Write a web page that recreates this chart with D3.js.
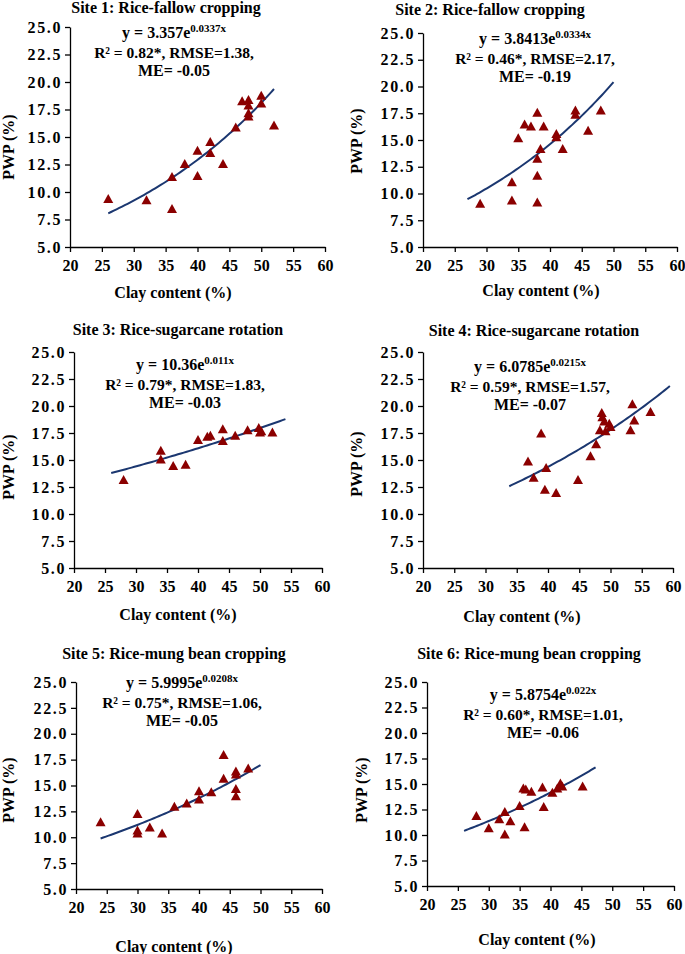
<!DOCTYPE html>
<html lang="en">
<head>
<meta charset="utf-8">
<script type="text/javascript" src="https://cdnjs.cloudflare.com/ajax/libs/d3/7.8.5/d3.min.js"></script>
<style>
body { margin: 0; background: #fff; }
svg text { font-family: "Liberation Serif", "Times New Roman", serif; font-weight: bold; fill: #000; }
</style>
</head>
<body>
<script type="text/javascript">
    // ---- data ----
    var xTicks = [20, 25, 30, 35, 40, 45, 50, 55, 60]
    var yTicks = [5, 7.5, 10, 12.5, 15, 17.5, 20, 22.5, 25]

    var siteTitles = [
        "Site 1: Rice-fallow cropping",
        "Site 2: Rice-fallow cropping",
        "Site 3: Rice-sugarcane rotation",
        "Site 4: Rice-sugarcane rotation",
        "Site 5: Rice-mung bean cropping",
        "Site 6: Rice-mung bean cropping"
    ]
    var eqBase = ["y = 3.357e", "y = 3.8413e", "y = 10.36e", "y = 6.0785e", "y = 5.9995e", "y = 5.8754e"]
    var eqExp = ["0.0337x", "0.0334x", "0.011x", "0.0215x", "0.0208x", "0.022x"]
    var statLines = [
        "R\u00b2 = 0.82*, RMSE=1.38,",
        "R\u00b2 = 0.46*, RMSE=2.17,",
        "R\u00b2 = 0.79*, RMSE=1.83,",
        "R\u00b2 = 0.59*, RMSE=1.57,",
        "R\u00b2 = 0.75*, RMSE=1.06,",
        "R\u00b2 = 0.60*, RMSE=1.01,"
    ]
    var meLines = ["ME= -0.05", "ME= -0.19", "ME= -0.03", "ME= -0.07", "ME= -0.05", "ME= -0.06"]

    // exponential fit y = a*e^(b*x), drawn over the range of the fit line
    var fitA = [3.357, 3.8413, 10.36, 6.0785, 5.9995, 5.8754]
    var fitB = [0.0337, 0.0334, 0.011, 0.0215, 0.0208, 0.022]
    var fitFrom = [26, 27, 26, 33.8, 24, 26]
    var fitTo = [52, 50, 54.1, 59.5, 50, 47.3]

    var site1Clay = [26, 32, 36, 36, 38, 40, 40, 42, 42, 44, 46, 47, 48, 48, 48, 48, 50, 50, 52]
    var site1Pwp  = [9.4, 9.3, 8.5, 11.4, 12.6, 11.5, 13.8, 14.6, 13.6, 12.6, 15.9, 18.3, 18.4, 17.9, 17.2, 16.9, 18.8, 18.1, 16.1]

    var site2Clay = [29, 34, 34, 35, 36, 37, 38, 38, 38, 38, 38.5, 39, 41, 41, 42, 44, 44, 46, 48]
    var site2Pwp  = [9.1, 9.4, 11.1, 15.2, 16.5, 16.3, 17.6, 13.3, 11.7, 9.2, 14.2, 16.3, 15.6, 15.3, 14.2, 17.8, 17.4, 15.9, 17.8]

    var site3Clay = [28, 34, 34, 36, 38, 40, 41.5, 42, 44, 44, 46, 48, 49.8, 50, 50.2, 52]
    var site3Pwp  = [13.2, 15.9, 15.1, 14.5, 14.6, 16.9, 17.2, 17.3, 17.9, 16.8, 17.3, 17.8, 18.0, 17.6, 17.7, 17.6]

    var site4Clay = [36.8, 37.7, 38.9, 39.7, 39.5, 41.3, 44.8, 46.8, 47.7, 48.3, 48.6, 48.7, 49.0, 49.2, 49.8, 50, 53.5, 53.2, 53.8, 56.4]
    var site4Pwp  = [14.9, 13.4, 17.5, 14.3, 12.3, 12.0, 13.2, 15.4, 16.5, 17.8, 19.4, 19.0, 18.6, 17.7, 18.4, 18.1, 20.2, 17.8, 18.7, 19.5]

    var site5Clay = [24, 30, 30, 30, 32, 34, 36, 38, 40, 40, 42, 44, 44, 46, 46, 46, 46, 48]
    var site5Pwp  = [11.5, 12.3, 10.7, 10.4, 11.0, 10.4, 13.0, 13.3, 14.5, 13.7, 14.4, 18.0, 15.7, 16.4, 16.1, 14.7, 14.0, 16.7]

    var site6Clay = [28, 30, 31.7, 32.6, 32.6, 33.5, 35, 35.6, 36, 35.8, 36.9, 38.7, 38.9, 40.3, 41.1, 41.6, 41.9, 45.2]
    var site6Pwp  = [11.9, 10.7, 11.6, 12.3, 10.1, 11.4, 12.9, 14.6, 14.5, 10.8, 14.3, 14.7, 12.8, 14.2, 14.6, 15.1, 14.8, 14.8]

    var clayValues = [site1Clay, site2Clay, site3Clay, site4Clay, site5Clay, site6Clay]
    var pwpValues = [site1Pwp, site2Pwp, site3Pwp, site4Pwp, site5Pwp, site6Pwp]

    // ---- panel geometry (pixels) ----
    var panels = [
        {l: 70,  r: 325, t: 27,  b: 247, title: [166, 13],  ann: [174, 38],  xl: [173, 298], yl: [14, 147]},
        {l: 423, r: 677, t: 33,  b: 247, title: [490, 15],  ann: [535, 44],  xl: [541, 296], yl: [362, 141]},
        {l: 74,  r: 322, t: 352, b: 568, title: [178, 335], ann: [185, 370], xl: [178, 620], yl: [14, 467]},
        {l: 423, r: 673, t: 352, b: 568, title: [534, 336], ann: [530, 372], xl: [522, 622], yl: [362, 464]},
        {l: 76,  r: 322, t: 682, b: 889, title: [174, 659], ann: [182, 688], xl: [174, 952], yl: [14, 790]},
        {l: 427, r: 674, t: 682, b: 886, title: [529, 659], ann: [543, 700], xl: [537, 945], yl: [367, 790]}
    ]

    var w = 685
    var h = 954
    var fontSize = 16

    var svg = d3.select("body")
                .append("svg")
                .attr("width", w)
                .attr("height", h)

    var triangle = "M0,-4.5L5,4.5L-5,4.5Z"

    panels.forEach(function(p, i) {
        var x = d3.scaleLinear().domain([20, 60]).range([p.l, p.r])
        var y = d3.scaleLinear().domain([5, 25]).range([p.b, p.t])
        var g = svg.append("g")

        // axes
        var xAxis = d3.axisBottom(x).tickValues(xTicks).tickSize(5).tickPadding(8).tickSizeOuter(0)
        var yAxis = d3.axisLeft(y).tickValues(yTicks).tickSize(5).tickPadding(3).tickSizeOuter(0)
            .tickFormat(d3.format(".1f"))

        var gx = g.append("g").attr("transform", "translate(0," + p.b + ")").call(xAxis)
        var gy = g.append("g").attr("transform", "translate(" + p.l + ",0)").call(yAxis)
        ;[gx, gy].forEach(function(a) {
            a.selectAll("path, line").attr("stroke", "#000").attr("stroke-width", 1.3)
            a.selectAll("text")
                .attr("font-family", "'Liberation Serif', serif")
                .attr("font-weight", "bold")
                .attr("font-size", fontSize)
                .attr("fill", "#000")
        })
        gy.selectAll("text").attr("letter-spacing", 1.6)

        // fit line
        var xs = d3.range(fitFrom[i], fitTo[i] + 0.001, (fitTo[i] - fitFrom[i]) / 60)
        var line = d3.line()
            .x(function(d) { return x(d) })
            .y(function(d) { return y(fitA[i] * Math.exp(fitB[i] * d)) })
        g.append("path")
            .datum(xs)
            .attr("d", line)
            .attr("fill", "none")
            .attr("stroke", "#1b3770")
            .attr("stroke-width", 2)

        // points
        g.selectAll("path.pt")
            .data(clayValues[i].map(function(c, j) { return [c, pwpValues[i][j]] }))
            .enter()
            .append("path")
            .attr("class", "pt")
            .attr("d", triangle)
            .attr("transform", function(d) {
                return "translate(" + x(d[0]) + "," + y(d[1]) + ")"
            })
            .attr("fill", "#8b0000")

        // title
        g.append("text")
            .attr("x", p.title[0])
            .attr("y", p.title[1])
            .attr("text-anchor", "middle")
            .attr("font-size", fontSize)
            .text(siteTitles[i])

        // equation and stats
        var eq = g.append("text")
            .attr("x", p.ann[0])
            .attr("y", p.ann[1])
            .attr("text-anchor", "middle")
            .attr("font-size", fontSize)
        eq.append("tspan").text(eqBase[i])
        eq.append("tspan").attr("font-size", 11).attr("dy", -6).text(eqExp[i])

        g.append("text")
            .attr("x", p.ann[0])
            .attr("y", p.ann[1] + 20)
            .attr("text-anchor", "middle")
            .attr("font-size", 15.5)
            .text(statLines[i])

        g.append("text")
            .attr("x", p.ann[0])
            .attr("y", p.ann[1] + 38)
            .attr("text-anchor", "middle")
            .attr("font-size", fontSize)
            .text(meLines[i])

        // axis titles
        g.append("text")
            .attr("x", p.xl[0])
            .attr("y", p.xl[1])
            .attr("text-anchor", "middle")
            .attr("font-size", fontSize)
            .text("Clay content (%)")

        g.append("text")
            .attr("transform", "translate(" + p.yl[0] + "," + p.yl[1] + ") rotate(-90)")
            .attr("text-anchor", "middle")
            .attr("font-size", fontSize)
            .text("PWP (%)")
    })
</script>
</body>
</html>
